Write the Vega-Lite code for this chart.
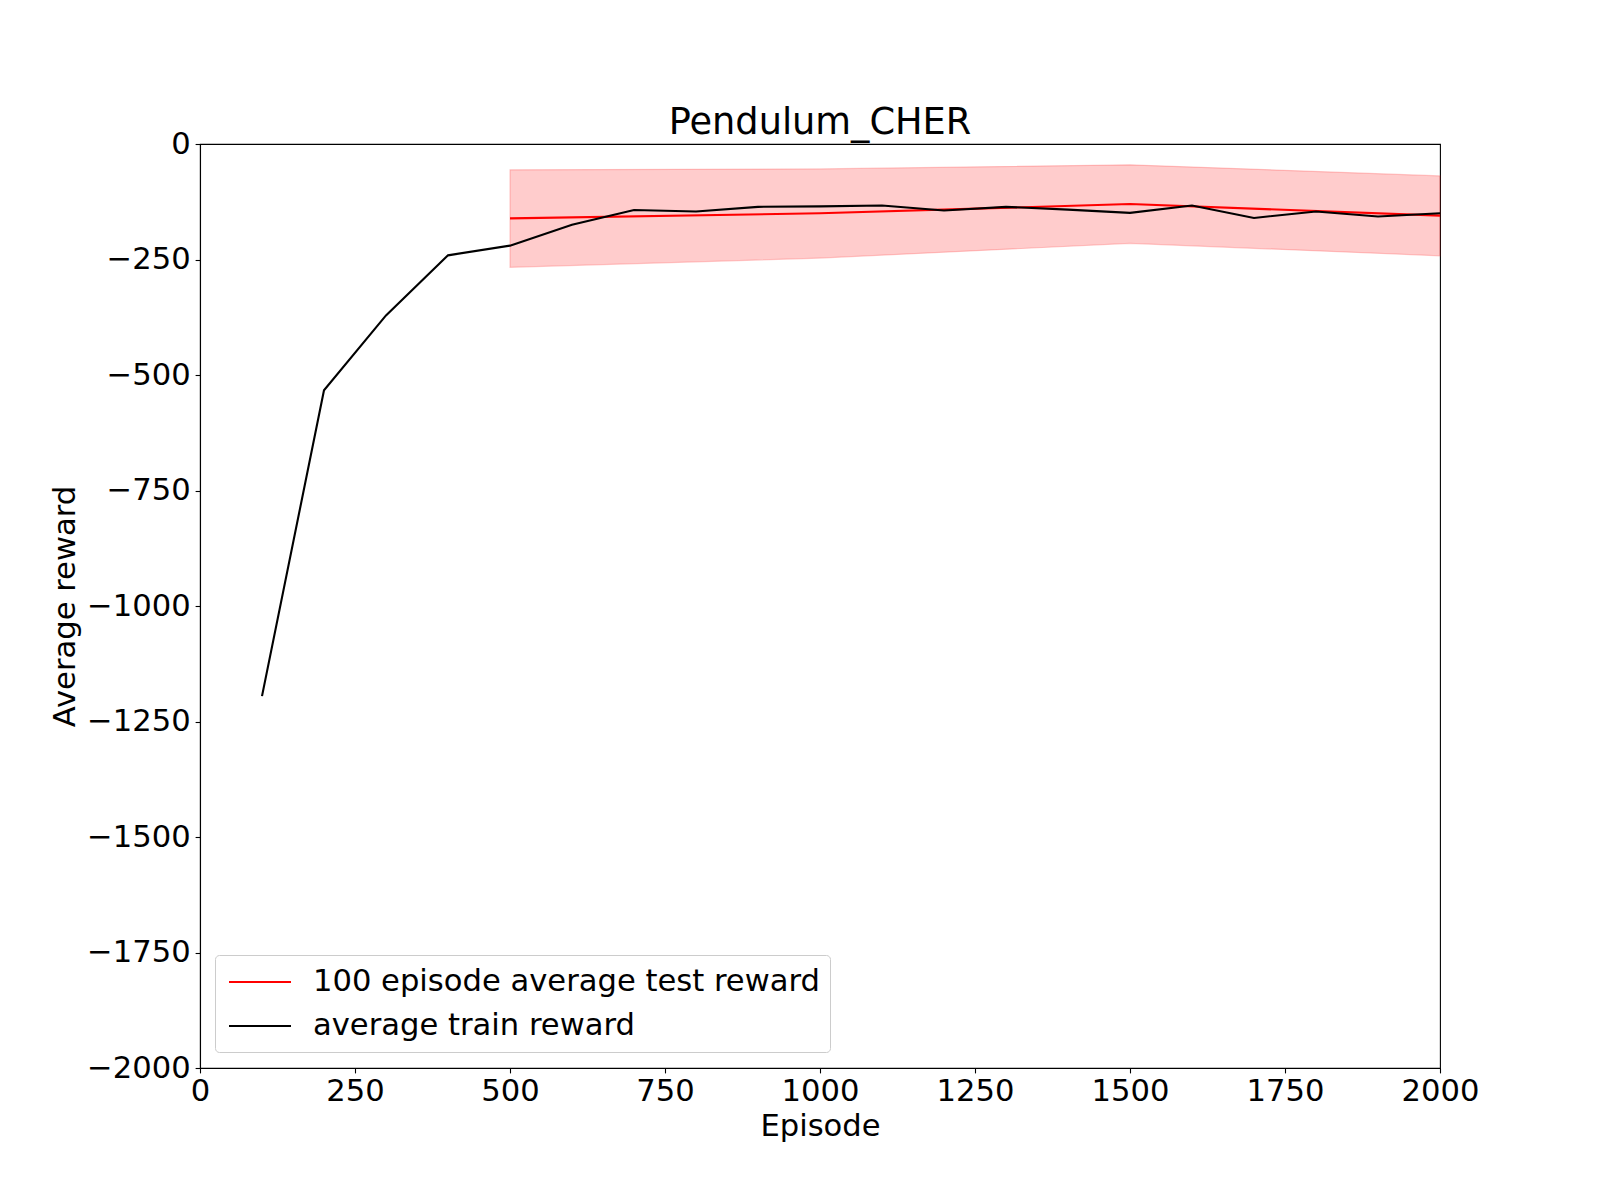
{
  "$schema": "https://vega.github.io/schema/vega-lite/v6.json",
  "autosize": {"type": "none"},
  "width": 1240,
  "height": 924,
  "padding": {"left": 200, "top": 144, "right": 160, "bottom": 132},
  "background": "white",
  "title": {
    "text": "Pendulum_CHER",
    "font": "DejaVu Sans",
    "fontSize": 36.7,
    "fontWeight": "normal",
    "color": "black",
    "anchor": "middle",
    "baseline": "alphabetic",
    "offset": 9,
    "dy": 51
  },
  "config": {
    "font": "DejaVu Sans",
    "view": {"stroke": "black", "strokeWidth": 1.1},
    "axis": {
      "grid": false,
      "domainColor": "black",
      "domainWidth": 1.1,
      "tickColor": "black",
      "tickWidth": 1.1,
      "tickSize": 4.9,
      "labelFont": "DejaVu Sans",
      "labelFontSize": 30.6,
      "labelColor": "black",
      "titleFont": "DejaVu Sans",
      "titleFontSize": 30.6,
      "titleFontWeight": "normal",
      "titleColor": "black"
    }
  },
  "datasets": {
    "train": [
      {"episode": 100, "reward": -1195, "series": "average train reward"},
      {"episode": 200, "reward": -533, "series": "average train reward"},
      {"episode": 300, "reward": -371, "series": "average train reward"},
      {"episode": 400, "reward": -241, "series": "average train reward"},
      {"episode": 500, "reward": -220, "series": "average train reward"},
      {"episode": 600, "reward": -175, "series": "average train reward"},
      {"episode": 700, "reward": -143, "series": "average train reward"},
      {"episode": 800, "reward": -146, "series": "average train reward"},
      {"episode": 900, "reward": -136, "series": "average train reward"},
      {"episode": 1000, "reward": -135, "series": "average train reward"},
      {"episode": 1100, "reward": -133, "series": "average train reward"},
      {"episode": 1200, "reward": -144, "series": "average train reward"},
      {"episode": 1300, "reward": -136, "series": "average train reward"},
      {"episode": 1400, "reward": -142, "series": "average train reward"},
      {"episode": 1500, "reward": -149, "series": "average train reward"},
      {"episode": 1600, "reward": -133, "series": "average train reward"},
      {"episode": 1700, "reward": -160, "series": "average train reward"},
      {"episode": 1800, "reward": -146, "series": "average train reward"},
      {"episode": 1900, "reward": -157, "series": "average train reward"},
      {"episode": 2000, "reward": -150, "series": "average train reward"}
    ],
    "test": [
      {"episode": 500, "reward": -161, "lower": -267, "upper": -56, "series": "100 episode average test reward"},
      {"episode": 1000, "reward": -150, "lower": -247, "upper": -54, "series": "100 episode average test reward"},
      {"episode": 1500, "reward": -130, "lower": -215, "upper": -45, "series": "100 episode average test reward"},
      {"episode": 2000, "reward": -155, "lower": -242, "upper": -69, "series": "100 episode average test reward"}
    ]
  },
  "layer": [
    {
      "data": {"name": "test"},
      "mark": {"type": "area", "color": "red", "fillOpacity": 0.2, "stroke": "red", "strokeOpacity": 0.2, "strokeWidth": 1.2},
      "encoding": {
        "x": {"field": "episode", "type": "quantitative", "scale": {"domain": [0, 2000], "nice": false}},
        "y": {"field": "lower", "type": "quantitative", "scale": {"domain": [-2000, 0], "nice": false}},
        "y2": {"field": "upper"}
      }
    },
    {
      "data": {"name": "test"},
      "mark": {"type": "line", "strokeWidth": 2.1},
      "encoding": {
        "x": {"field": "episode", "type": "quantitative"},
        "y": {"field": "reward", "type": "quantitative"},
        "color": {"field": "series", "type": "nominal"}
      }
    },
    {
      "data": {"name": "train"},
      "mark": {"type": "line", "strokeWidth": 2.1},
      "encoding": {
        "x": {
          "field": "episode", "type": "quantitative",
          "axis": {
            "title": "Episode",
            "format": "d",
            "values": [0, 250, 500, 750, 1000, 1250, 1500, 1750, 2000],
            "labelBaseline": "alphabetic",
            "labelPadding": 28,
            "labelFlush": false,
            "labelOverlap": false,
            "titleBaseline": "alphabetic",
            "titleY": 67,
            "titleX": 620,
            "titleAnchor": "middle"
          }
        },
        "y": {
          "field": "reward", "type": "quantitative",
          "axis": {
            "title": "Average reward",
            "format": "d",
            "values": [0, -250, -500, -750, -1000, -1250, -1500, -1750, -2000],
            "labelPadding": 5,
            "labelOverlap": false,
            "labelFlush": false,
            "titleBaseline": "alphabetic",
            "titleX": -126,
            "titleY": 462,
            "titleAngle": -90,
            "titleAlign": "center"
          }
        },
        "color": {
          "field": "series", "type": "nominal",
          "scale": {"domain": ["100 episode average test reward", "average train reward"], "range": ["#ff0000", "#000000"]},
          "legend": {
            "title": null,
            "orient": "none",
            "legendX": 15,
            "legendY": 811,
            "symbolType": "M-2,0H2",
            "symbolSize": 961,
            "symbolStrokeWidth": 2.1,
            "symbolOffset": 18,
            "labelFont": "DejaVu Sans",
            "labelFontSize": 30.6,
            "labelColor": "black",
            "labelOffset": 36,
            "labelLimit": 1000,
            "padding": 10,
            "rowPadding": 11,
            "strokeColor": "#cccccc",
            "fillColor": "white",
            "cornerRadius": 4
          }
        }
      }
    }
  ]
}
